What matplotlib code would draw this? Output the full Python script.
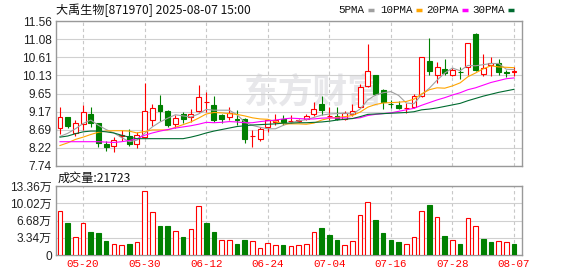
import numpy as np
import pandas as pd
import matplotlib
matplotlib.use("Agg")
import matplotlib.pyplot as plt
from matplotlib.lines import Line2D

plt.rcParams['font.family'] = ['Liberation Sans', 'Noto Sans CJK SC']

# trading days 2025-05-15 .. 2025-08-07 (06-02 holiday)
days = pd.bdate_range('2025-05-15', '2025-08-07', freq='C', holidays=['2025-06-02'])
dates = [d.strftime('%m-%d') for d in days]

opens = [8.74, 9.02, 8.61, 8.85, 9.12, 8.86, 8.33, 8.26, 8.54, 8.53,
         8.33, 8.50, 8.96, 9.34, 9.20, 8.85, 9.11, 9.02, 9.18, 9.43,
         9.36, 9.08, 9.04, 8.97, 8.98, 8.52, 8.44, 8.76, 8.91, 8.98,
         8.92, 8.92, 8.99, 9.11, 9.38, 9.05, 9.07, 8.99, 9.11, 9.29,
         9.84, 10.13, 9.75, 9.38, 9.36, 9.27, 9.29, 9.58, 10.51, 10.13,
         10.30, 10.13, 10.22, 10.34, 11.22, 10.16, 10.40, 10.45, 10.22, 10.21]
highs = [9.30, 9.03, 8.95, 9.34, 9.30, 8.87, 8.39, 8.51, 8.70, 8.72,
         8.64, 9.92, 9.38, 9.62, 9.21, 9.09, 9.16, 9.24, 9.88, 9.69,
         9.59, 9.11, 9.30, 9.21, 9.00, 8.70, 8.77, 8.99, 9.12, 9.09,
         9.08, 8.97, 9.12, 9.43, 9.59, 9.29, 9.29, 9.18, 9.37, 9.90,
         10.95, 10.15, 9.76, 9.49, 9.46, 9.40, 9.64, 10.62, 11.12, 10.49,
         10.56, 10.31, 10.36, 10.97, 11.25, 10.68, 10.60, 10.56, 10.26, 10.35]
lows = [8.57, 8.74, 8.52, 8.70, 8.76, 8.25, 8.13, 8.11, 8.39, 8.28,
        8.22, 8.48, 8.79, 8.92, 8.76, 8.74, 8.88, 8.90, 9.16, 9.16,
        8.90, 8.88, 8.94, 8.83, 8.35, 8.24, 8.41, 8.64, 8.82, 8.83,
        8.87, 8.90, 8.96, 9.05, 9.09, 8.94, 8.94, 8.94, 9.05, 9.27,
        9.82, 9.62, 9.23, 9.27, 9.23, 9.14, 9.27, 9.55, 10.13, 9.93,
        10.13, 10.12, 10.04, 10.14, 10.25, 10.12, 10.12, 10.14, 10.09, 10.10]
closes = [9.03, 8.79, 8.88, 9.16, 8.88, 8.35, 8.24, 8.42, 8.56, 8.31,
          8.55, 9.18, 9.27, 9.18, 8.83, 9.01, 8.99, 9.11, 9.57, 9.43,
          8.95, 8.99, 9.13, 8.95, 8.46, 8.53, 8.72, 8.94, 8.95, 8.89,
          8.92, 8.96, 9.07, 9.25, 9.22, 9.05, 8.99, 9.13, 9.18, 9.83,
          10.25, 9.64, 9.43, 9.37, 9.27, 9.28, 9.58, 10.60, 10.23, 10.34,
          10.18, 10.27, 10.21, 10.97, 10.27, 10.31, 10.45, 10.22, 10.18, 10.23]

ma5 = [8.52, 8.60, 8.72, 8.86, 8.95, 8.81, 8.70, 8.61, 8.49, 8.38,
       8.42, 8.60, 8.77, 8.90, 9.00, 9.09, 9.06, 9.03, 9.11, 9.23,
       9.21, 9.21, 9.21, 9.09, 8.90, 8.81, 8.76, 8.72, 8.72, 8.81,
       8.88, 8.93, 8.96, 9.02, 9.08, 9.11, 9.12, 9.13, 9.11, 9.24,
       9.48, 9.61, 9.67, 9.70, 9.60, 9.40, 9.38, 9.62, 9.79, 10.00,
       10.19, 10.32, 10.25, 10.39, 10.38, 10.41, 10.44, 10.44, 10.29, 10.28]
ma10 = [8.28, 8.35, 8.44, 8.50, 8.57, 8.63, 8.66, 8.67, 8.67, 8.66,
        8.61, 8.65, 8.69, 8.69, 8.69, 8.76, 8.83, 8.90, 9.00, 9.11,
        9.15, 9.14, 9.12, 9.10, 9.06, 9.01, 8.98, 8.97, 8.91, 8.85,
        8.85, 8.85, 8.84, 8.87, 8.95, 9.00, 9.02, 9.04, 9.07, 9.16,
        9.29, 9.36, 9.40, 9.41, 9.42, 9.44, 9.50, 9.64, 9.75, 9.80,
        9.79, 9.85, 9.93, 10.09, 10.19, 10.30, 10.38, 10.35, 10.34, 10.33]
ma20 = [8.38, 8.38, 8.38, 8.38, 8.38, 8.38, 8.37, 8.36, 8.38, 8.41,
        8.46, 8.55, 8.61, 8.66, 8.70, 8.74, 8.77, 8.80, 8.84, 8.89,
        8.88, 8.89, 8.91, 8.90, 8.88, 8.88, 8.91, 8.93, 8.95, 8.98,
        9.00, 8.99, 8.98, 8.98, 9.00, 9.01, 9.00, 9.01, 8.99, 9.01,
        9.07, 9.10, 9.12, 9.14, 9.18, 9.22, 9.26, 9.34, 9.41, 9.48,
        9.54, 9.61, 9.67, 9.75, 9.80, 9.87, 9.94, 9.99, 10.04, 10.06]
ma30 = [8.50, 8.53, 8.59, 8.64, 8.66, 8.66, 8.64, 8.61, 8.55, 8.50,
        8.46, 8.46, 8.46, 8.46, 8.46, 8.46, 8.46, 8.50, 8.55, 8.61,
        8.66, 8.70, 8.74, 8.78, 8.80, 8.82, 8.83, 8.84, 8.85, 8.87,
        8.87, 8.88, 8.88, 8.89, 8.90, 8.92, 8.95, 8.97, 8.99, 9.04,
        9.10, 9.11, 9.12, 9.13, 9.14, 9.15, 9.17, 9.22, 9.24, 9.27,
        9.31, 9.35, 9.39, 9.46, 9.52, 9.58, 9.63, 9.68, 9.72, 9.76]

# volume in 万 shares
volume = [8.47, 6.19, 3.39, 6.13, 4.43, 4.24, 2.67, 2.22, 2.02, 2.09,
          2.61, 12.38, 8.34, 5.60, 5.60, 4.63, 3.45, 4.95, 9.45, 6.19,
          4.43, 3.00, 3.00, 2.09, 3.00, 2.80, 1.43, 2.41, 2.02, 2.02,
          1.82, 2.02, 2.22, 4.37, 5.21, 3.85, 2.87, 2.02, 2.80, 7.69,
          10.23, 6.78, 4.24, 2.87, 2.48, 2.22, 3.39, 8.47, 9.71, 7.30,
          3.65, 3.00, 2.09, 7.10, 5.60, 3.19, 2.61, 2.67, 2.48, 2.17]
# R = close above previous close, G = below
vol_dir = "RGRRGGGRRGRRRGGRGRRGGRRGGRRRRGRRRRGGGRRRRGGGGRRRGRGRGRRGGR"

tick_dates = ['05-20', '05-30', '06-12', '06-24', '07-04', '07-16', '07-28', '08-07']
price_labels = ['7.74', '8.22', '8.69', '9.17', '9.65', '10.13', '10.61', '11.08', '11.56']
vol_labels = ['0', '3.34万', '6.68万', '10.02万', '13.36万']
last_volume = 21723

RED = '#ff0000'
GREEN = '#008000'
ma_colors = ['#a0a0a0', '#ffa500', '#ff00ff', '#006b30']
W, H = 578, 276

fig = plt.figure(figsize=(W / 100, H / 100), dpi=100)
fig.patch.set_facecolor('white')
ax1 = fig.add_axes([56 / W, 1 - 166 / H, 466 / W, 145 / H])
ax2 = fig.add_axes([56 / W, 1 - 255 / H, 466 / W, 69 / H])

x = np.arange(len(dates))
o = np.array(opens); c = np.array(closes)
up = c >= o
ccol = [RED if u else GREEN for u in up]
fcol = ['white' if u else GREEN for u in up]

# price panel
ax1.vlines(x, lows, highs, colors=ccol, lw=0.8, zorder=3)
body_lo = np.minimum(o, c)
body_h = np.maximum(np.abs(c - o), 0.006)
ax1.bar(x, body_h, bottom=body_lo, width=0.64, color=fcol, edgecolor=ccol,
        linewidth=0.8, zorder=4)
for ma, col in zip([ma5, ma10, ma20, ma30], ma_colors):
    ax1.plot(x, ma, color=col, lw=0.8, zorder=5)

ax1.set_ylim(7.74, 11.56)
ax1.set_yticks(np.linspace(7.74, 11.56, 9))
ax1.set_yticklabels(price_labels)
# faint site watermark
ax1.text(0.553, 0.51, '东方财富', transform=ax1.transAxes, ha='center', va='center',
         fontsize=25, fontweight='bold', color='#e7e7ea', zorder=1,
         family=['Noto Sans CJK SC'])

# volume panel
vcol = [RED if d == 'R' else GREEN for d in vol_dir]
vfill = ['white' if d == 'R' else GREEN for d in vol_dir]
ax2.bar(x, volume, width=0.6, color=vfill, edgecolor=vcol, linewidth=0.8, zorder=3)
ax2.set_ylim(0, 13.36)
ax2.set_yticks(np.linspace(0, 13.36, 5))
ax2.set_yticklabels(vol_labels)

tick_pos = [dates.index(d) for d in tick_dates]
for ax in (ax1, ax2):
    ax.set_xlim(-0.52, 60.04)
    ax.set_facecolor('white')
    ax.yaxis.grid(True, color='#d0d0d0', lw=0.8, zorder=0)
    for p in tick_pos:
        ax.axvline(p, color='#c8c8c8', lw=0.8, dashes=(3, 2.5), zorder=0)
    for s in ax.spines.values():
        s.set_color('#999999')
        s.set_linewidth(1.0)
    ax.tick_params(axis='y', length=0, pad=3, labelsize=8.6, labelcolor='#222222')
    ax.tick_params(axis='x', length=0)

ax1.set_xticks([])
ax2.set_xticks(tick_pos)
ax2.set_xticklabels(tick_dates, color=RED, fontsize=7.8, family=['Liberation Mono'])
ax2.tick_params(axis='x', pad=3)

# header texts
fig.text(56 / W, 1 - 10 / H, '大禹生物[871970] 2025-08-07 15:00', ha='left', va='center',
         fontsize=8.7, color='#111111', family=['Noto Sans CJK SC'])
fig.text(58 / W, 1 - 178 / H, '成交量:%d' % last_volume, ha='left', va='center',
         fontsize=8.7, color='#111111', family=['Noto Sans CJK SC'])

legend_items = [('5PMA', 338, 368), ('10PMA', 380, 416), ('20PMA', 426, 462), ('30PMA', 472, 508)]
for (name, tx, mx), col in zip(legend_items, ma_colors):
    fig.text(tx / W, 1 - 10 / H, name, ha='left', va='center', fontsize=7.8,
             color='#111111', family=['Liberation Mono'])
    fig.add_artist(Line2D([mx / W, (mx + 6) / W], [1 - 10 / H, 1 - 10 / H],
                          color=col, lw=2.5, solid_capstyle='butt'))

fig.savefig('out.png', dpi=100, facecolor='white')
